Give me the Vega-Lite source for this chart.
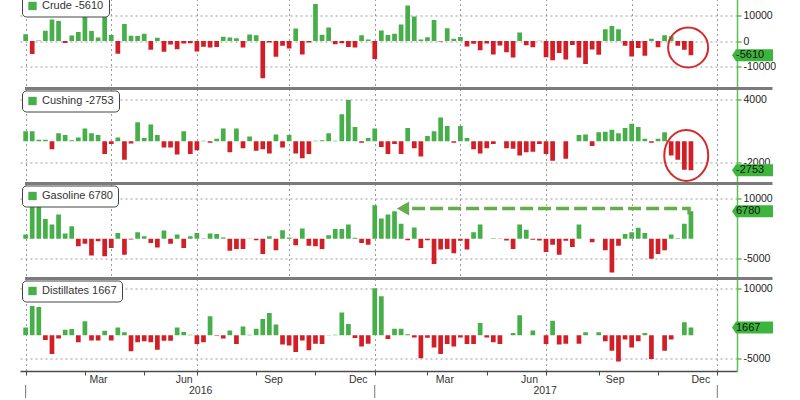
{
  "$schema": "https://vega.github.io/schema/vega-lite/v6.json",
  "background": "white",
  "padding": {"left": 20, "top": -6.5, "right": 0, "bottom": 0},
  "data": {"values": [
    {"d":"2015-12-25","Crude":2630,"Cushing":950,"Gasoline":1000,"Distillates":1700},
    {"d":"2016-01-01","Crude":-5085,"Cushing":950,"Gasoline":10600,"Distillates":6300},
    {"d":"2016-01-08","Crude":234,"Cushing":150,"Gasoline":8400,"Distillates":6100},
    {"d":"2016-01-15","Crude":3979,"Cushing":150,"Gasoline":4900,"Distillates":-1000},
    {"d":"2016-01-22","Crude":8383,"Cushing":-750,"Gasoline":3500,"Distillates":-4000},
    {"d":"2016-01-29","Crude":7792,"Cushing":750,"Gasoline":6000,"Distillates":-700},
    {"d":"2016-02-05","Crude":-754,"Cushing":600,"Gasoline":1250,"Distillates":1200},
    {"d":"2016-02-12","Crude":2100,"Cushing":100,"Gasoline":3100,"Distillates":1350},
    {"d":"2016-02-19","Crude":3502,"Cushing":350,"Gasoline":-1900,"Distillates":-1500},
    {"d":"2016-02-26","Crude":10374,"Cushing":1200,"Gasoline":-1250,"Distillates":3000},
    {"d":"2016-03-04","Crude":3880,"Cushing":750,"Gasoline":-4200,"Distillates":-1100},
    {"d":"2016-03-11","Crude":1320,"Cushing":600,"Gasoline":-650,"Distillates":-1100},
    {"d":"2016-03-18","Crude":9357,"Cushing":-1200,"Gasoline":-4400,"Distillates":1000},
    {"d":"2016-03-25","Crude":2299,"Cushing":-250,"Gasoline":-2300,"Distillates":-1100},
    {"d":"2016-04-01","Crude":-4937,"Cushing":350,"Gasoline":1400,"Distillates":1700},
    {"d":"2016-04-08","Crude":6634,"Cushing":-1750,"Gasoline":-4000,"Distillates":650},
    {"d":"2016-04-15","Crude":2080,"Cushing":-200,"Gasoline":-200,"Distillates":-3400},
    {"d":"2016-04-22","Crude":1999,"Cushing":1800,"Gasoline":1600,"Distillates":-1500},
    {"d":"2016-04-29","Crude":2784,"Cushing":300,"Gasoline":600,"Distillates":-1300},
    {"d":"2016-05-06","Crude":-3410,"Cushing":1600,"Gasoline":-1100,"Distillates":-1500},
    {"d":"2016-05-13","Crude":1311,"Cushing":600,"Gasoline":-2200,"Distillates":-3100},
    {"d":"2016-05-20","Crude":-4226,"Cushing":-600,"Gasoline":2000,"Distillates":-1150},
    {"d":"2016-05-27","Crude":-1366,"Cushing":-600,"Gasoline":-1250,"Distillates":-1150},
    {"d":"2016-06-03","Crude":-3226,"Cushing":-1250,"Gasoline":1000,"Distillates":1700},
    {"d":"2016-06-10","Crude":-933,"Cushing":950,"Gasoline":-2300,"Distillates":700},
    {"d":"2016-06-17","Crude":-917,"Cushing":-1200,"Gasoline":600,"Distillates":100},
    {"d":"2016-06-24","Crude":-4053,"Cushing":-850,"Gasoline":1400,"Distillates":-1850},
    {"d":"2016-07-01","Crude":-2223,"Cushing":50,"Gasoline":-100,"Distillates":-1500},
    {"d":"2016-07-08","Crude":-2546,"Cushing":-150,"Gasoline":1250,"Distillates":4100},
    {"d":"2016-07-15","Crude":-2342,"Cushing":250,"Gasoline":1150,"Distillates":-100},
    {"d":"2016-07-22","Crude":1671,"Cushing":1200,"Gasoline":300,"Distillates":-700},
    {"d":"2016-07-29","Crude":1413,"Cushing":-1050,"Gasoline":-3000,"Distillates":1050},
    {"d":"2016-08-05","Crude":1055,"Cushing":1200,"Gasoline":-2600,"Distillates":-1850},
    {"d":"2016-08-12","Crude":-2508,"Cushing":-650,"Gasoline":-2600,"Distillates":1900},
    {"d":"2016-08-19","Crude":2501,"Cushing":450,"Gasoline":50,"Distillates":100},
    {"d":"2016-08-26","Crude":2276,"Cushing":-900,"Gasoline":-400,"Distillates":1400},
    {"d":"2016-09-02","Crude":-14513,"Cushing":-750,"Gasoline":-3800,"Distillates":3500},
    {"d":"2016-09-09","Crude":-559,"Cushing":-1150,"Gasoline":600,"Distillates":4800},
    {"d":"2016-09-16","Crude":-6197,"Cushing":650,"Gasoline":-2900,"Distillates":2300},
    {"d":"2016-09-23","Crude":-1882,"Cushing":-600,"Gasoline":2100,"Distillates":-2000},
    {"d":"2016-09-30","Crude":-2976,"Cushing":600,"Gasoline":300,"Distillates":-2200},
    {"d":"2016-10-07","Crude":4850,"Cushing":-1150,"Gasoline":-1650,"Distillates":-3600},
    {"d":"2016-10-14","Crude":-5247,"Cushing":-1600,"Gasoline":2500,"Distillates":-1100},
    {"d":"2016-10-21","Crude":-553,"Cushing":-1200,"Gasoline":-1750,"Distillates":-3200},
    {"d":"2016-10-28","Crude":14420,"Cushing":50,"Gasoline":-1900,"Distillates":-1800},
    {"d":"2016-11-04","Crude":2432,"Cushing":100,"Gasoline":-2600,"Distillates":-1850},
    {"d":"2016-11-11","Crude":5274,"Cushing":750,"Gasoline":850,"Distillates":50},
    {"d":"2016-11-18","Crude":-1255,"Cushing":50,"Gasoline":2400,"Distillates":100},
    {"d":"2016-11-25","Crude":-884,"Cushing":2550,"Gasoline":2400,"Distillates":4900},
    {"d":"2016-12-02","Crude":-2389,"Cushing":3900,"Gasoline":3500,"Distillates":2400},
    {"d":"2016-12-09","Crude":-2563,"Cushing":1350,"Gasoline":200,"Distillates":-600},
    {"d":"2016-12-16","Crude":2256,"Cushing":-150,"Gasoline":-1100,"Distillates":-2400},
    {"d":"2016-12-23","Crude":614,"Cushing":300,"Gasoline":-1500,"Distillates":-1800},
    {"d":"2016-12-30","Crude":-7051,"Cushing":1200,"Gasoline":8300,"Distillates":10100},
    {"d":"2017-01-06","Crude":4097,"Cushing":-550,"Gasoline":5000,"Distillates":8400},
    {"d":"2017-01-13","Crude":2347,"Cushing":-1200,"Gasoline":6000,"Distillates":-800},
    {"d":"2017-01-20","Crude":2840,"Cushing":-250,"Gasoline":6800,"Distillates":1400},
    {"d":"2017-01-27","Crude":6466,"Cushing":-1200,"Gasoline":3700,"Distillates":1400},
    {"d":"2017-02-03","Crude":13830,"Cushing":1250,"Gasoline":-400,"Distillates":200},
    {"d":"2017-02-10","Crude":9527,"Cushing":-650,"Gasoline":2800,"Distillates":-450},
    {"d":"2017-02-17","Crude":564,"Cushing":-1450,"Gasoline":-2300,"Distillates":-4900},
    {"d":"2017-02-24","Crude":1501,"Cushing":500,"Gasoline":-400,"Distillates":-550},
    {"d":"2017-03-03","Crude":8209,"Cushing":950,"Gasoline":-6300,"Distillates":-2600},
    {"d":"2017-03-10","Crude":-237,"Cushing":2250,"Gasoline":-2700,"Distillates":-4000},
    {"d":"2017-03-17","Crude":4954,"Cushing":1450,"Gasoline":-2600,"Distillates":-1850},
    {"d":"2017-03-24","Crude":867,"Cushing":-150,"Gasoline":-3600,"Distillates":-2400},
    {"d":"2017-03-31","Crude":1566,"Cushing":1450,"Gasoline":-500,"Distillates":-450},
    {"d":"2017-04-07","Crude":-2166,"Cushing":300,"Gasoline":-2700,"Distillates":-1850},
    {"d":"2017-04-14","Crude":-1034,"Cushing":-750,"Gasoline":1600,"Distillates":-1850},
    {"d":"2017-04-21","Crude":-3641,"Cushing":-1150,"Gasoline":3500,"Distillates":2650},
    {"d":"2017-04-28","Crude":-930,"Cushing":-650,"Gasoline":0,"Distillates":-450},
    {"d":"2017-05-05","Crude":-5247,"Cushing":-250,"Gasoline":100,"Distillates":-1500},
    {"d":"2017-05-12","Crude":-1753,"Cushing":0,"Gasoline":-100,"Distillates":-1850},
    {"d":"2017-05-19","Crude":-4432,"Cushing":-650,"Gasoline":-450,"Distillates":0},
    {"d":"2017-05-26","Crude":-6434,"Cushing":-700,"Gasoline":-2600,"Distillates":500},
    {"d":"2017-06-02","Crude":3295,"Cushing":-1350,"Gasoline":3500,"Distillates":4300},
    {"d":"2017-06-09","Crude":-1661,"Cushing":-1050,"Gasoline":2200,"Distillates":0},
    {"d":"2017-06-16","Crude":-2451,"Cushing":-1000,"Gasoline":-300,"Distillates":1050},
    {"d":"2017-06-23","Crude":118,"Cushing":-250,"Gasoline":-450,"Distillates":0},
    {"d":"2017-06-30","Crude":-6299,"Cushing":-1200,"Gasoline":-3300,"Distillates":-1850},
    {"d":"2017-07-07","Crude":-7564,"Cushing":-1850,"Gasoline":-1500,"Distillates":3150},
    {"d":"2017-07-14","Crude":-4727,"Cushing":0,"Gasoline":-4000,"Distillates":-2000},
    {"d":"2017-07-21","Crude":-7208,"Cushing":-1650,"Gasoline":-500,"Distillates":-1800},
    {"d":"2017-07-28","Crude":-1527,"Cushing":0,"Gasoline":-2100,"Distillates":0},
    {"d":"2017-08-04","Crude":-6451,"Cushing":600,"Gasoline":3500,"Distillates":-1800},
    {"d":"2017-08-11","Crude":-8945,"Cushing":650,"Gasoline":0,"Distillates":650},
    {"d":"2017-08-18","Crude":-3327,"Cushing":-450,"Gasoline":-900,"Distillates":0},
    {"d":"2017-08-25","Crude":-5392,"Cushing":850,"Gasoline":0,"Distillates":650},
    {"d":"2017-09-01","Crude":4580,"Cushing":900,"Gasoline":-2900,"Distillates":-1300},
    {"d":"2017-09-08","Crude":5888,"Cushing":1100,"Gasoline":-8400,"Distillates":-3300},
    {"d":"2017-09-15","Crude":4591,"Cushing":750,"Gasoline":-1750,"Distillates":-5600},
    {"d":"2017-09-22","Crude":-1846,"Cushing":1250,"Gasoline":1150,"Distillates":-900},
    {"d":"2017-09-29","Crude":-6023,"Cushing":1650,"Gasoline":1600,"Distillates":-2600},
    {"d":"2017-10-06","Crude":-2747,"Cushing":1350,"Gasoline":2700,"Distillates":-1300},
    {"d":"2017-10-13","Crude":-5731,"Cushing":250,"Gasoline":1400,"Distillates":500},
    {"d":"2017-10-20","Crude":856,"Cushing":-150,"Gasoline":-5000,"Distillates":-5100},
    {"d":"2017-10-27","Crude":-2437,"Cushing":250,"Gasoline":-3800,"Distillates":0},
    {"d":"2017-11-03","Crude":2237,"Cushing":850,"Gasoline":-2900,"Distillates":-3300},
    {"d":"2017-11-10","Crude":1854,"Cushing":-1350,"Gasoline":1000,"Distillates":-900},
    {"d":"2017-11-17","Crude":-1855,"Cushing":-1750,"Gasoline":100,"Distillates":0},
    {"d":"2017-11-24","Crude":-3429,"Cushing":-2700,"Gasoline":3700,"Distillates":2800},
    {"d":"2017-12-01","Crude":-5610,"Cushing":-2753,"Gasoline":6780,"Distillates":1667}
  ]},
  "spacing": 0,
  "bounds": "flush",
  "resolve": {"scale": {"color": "independent", "y": "independent"}, "legend": {"color": "independent"}},
  "vconcat": [
    {
      "width": 717, "height": 95,
      "layer": [
        {"mark": {"type": "bar", "width": 4.7, "clip": true},
         "encoding": {
           "x": {"field": "d", "type": "temporal", "scale": {"type": "utc", "domain": [{"year":2015,"month":12,"date":24,"hours":8,"utc":true},{"year":2018,"month":1,"date":13,"hours":15,"utc":true}]},
                 "axis": {"values": [{"year":2015,"month":12,"date":25,"utc":true},{"year":2016,"month":3,"date":25,"utc":true},{"year":2016,"month":6,"date":24,"utc":true},{"year":2016,"month":9,"date":30,"utc":true},{"year":2016,"month":12,"date":30,"utc":true},{"year":2017,"month":3,"date":31,"utc":true},{"year":2017,"month":6,"date":30,"utc":true},{"year":2017,"month":9,"date":29,"utc":true},{"year":2017,"month":12,"date":29,"utc":true}], "grid": true, "domain": false, "ticks": false, "labels": false, "title": null}},
           "y": {"field": "Crude", "type": "quantitative", "scale": {"domain": [-18550, 18550], "nice": false},
                 "axis": {"orient": "right", "values": [-10000, 0, 10000], "labelExpr": "datum.value + ''", "title": null}},
           "color": {"condition": {"test": "datum.Crude < 0", "value": "#d21f27"}, "datum": "Crude -5610", "type": "nominal", "scale": {"range": ["#47af4a"]}, "legend": {"title": null}}
         }},
        {"data": {"values": [{"d": "2017-11-28T00:00:00Z", "v": -2540}]},
         "mark": {"type": "point", "shape": "circle", "size": 1600, "filled": false, "color": "#d42a2a", "strokeWidth": 2, "opacity": 1, "clip": false},
         "encoding": {"x": {"field": "d", "type": "temporal"}, "y": {"field": "v", "type": "quantitative"}}},
        {"data": {"values": [{"v": -5610}]},
         "mark": {"type": "point", "shape": "M0,0L0.67,-1L6.83,-1L6.83,1L0.67,1Z", "size": 144, "filled": true, "color": "#3db53d", "opacity": 1, "strokeWidth": 0, "clip": false},
         "encoding": {"x": {"datum": {"year":2018,"month":1,"date":13,"hours":15,"utc":true}, "type": "temporal"}, "y": {"field": "v", "type": "quantitative"}}},
        {"data": {"values": [{"v": -5610}]},
         "mark": {"type": "text", "align": "left", "baseline": "middle", "dx": 4, "fontSize": 11, "font": "Liberation Sans", "color": "#111"},
         "encoding": {"x": {"datum": {"year":2018,"month":1,"date":13,"hours":15,"utc":true}, "type": "temporal"}, "y": {"field": "v", "type": "quantitative"}, "text": {"field": "v", "type": "nominal"}}}
      ]
    },
    {
      "width": 717, "height": 95,
      "layer": [
        {"mark": {"type": "bar", "width": 4.7, "clip": true},
         "encoding": {
           "x": {"field": "d", "type": "temporal", "scale": {"type": "utc", "domain": [{"year":2015,"month":12,"date":24,"hours":8,"utc":true},{"year":2018,"month":1,"date":13,"hours":15,"utc":true}]},
                 "axis": {"values": [{"year":2015,"month":12,"date":25,"utc":true},{"year":2016,"month":3,"date":25,"utc":true},{"year":2016,"month":6,"date":24,"utc":true},{"year":2016,"month":9,"date":30,"utc":true},{"year":2016,"month":12,"date":30,"utc":true},{"year":2017,"month":3,"date":31,"utc":true},{"year":2017,"month":6,"date":30,"utc":true},{"year":2017,"month":9,"date":29,"utc":true},{"year":2017,"month":12,"date":29,"utc":true}], "grid": true, "domain": false, "ticks": false, "labels": false, "title": null}},
           "y": {"field": "Cushing", "type": "quantitative", "scale": {"domain": [-4000, 5000], "nice": false},
                 "axis": {"orient": "right", "values": [-2000, 0, 2000, 4000], "labelExpr": "datum.value + ''", "title": null}},
           "color": {"condition": {"test": "datum.Cushing < 0", "value": "#d21f27"}, "datum": "Cushing -2753", "type": "nominal", "scale": {"range": ["#47af4a"]}, "legend": {"title": null}}
         }},
        {"data": {"values": [{"v": 5000}]},
         "mark": {"type": "rule", "color": "#7b7b7b", "strokeWidth": 3, "clip": false},
         "encoding": {"x": {"datum": {"year":2015,"month":12,"date":24,"hours":8,"utc":true}, "type": "temporal"}, "x2": {"datum": {"year":2018,"month":2,"date":25,"hours":16,"utc":true}}, "y": {"field": "v", "type": "quantitative"}}},
        {"data": {"values": [{"d": "2017-11-26T00:00:00Z", "v": -1340}]},
         "mark": {"type": "point", "shape": "M0,-1.16A1,1.16 0 1,1 0,1.16A1,1.16 0 1,1 0,-1.16Z", "size": 1936, "filled": false, "color": "#d42a2a", "strokeWidth": 2, "opacity": 1, "clip": false},
         "encoding": {"x": {"field": "d", "type": "temporal"}, "y": {"field": "v", "type": "quantitative"}}},
        {"data": {"values": [{"v": -2753}]},
         "mark": {"type": "point", "shape": "M0,0L0.67,-1L6.83,-1L6.83,1L0.67,1Z", "size": 144, "filled": true, "color": "#3db53d", "opacity": 1, "strokeWidth": 0, "clip": false},
         "encoding": {"x": {"datum": {"year":2018,"month":1,"date":13,"hours":15,"utc":true}, "type": "temporal"}, "y": {"field": "v", "type": "quantitative"}}},
        {"data": {"values": [{"v": -2753}]},
         "mark": {"type": "text", "align": "left", "baseline": "middle", "dx": 4, "fontSize": 11, "font": "Liberation Sans", "color": "#111"},
         "encoding": {"x": {"datum": {"year":2018,"month":1,"date":13,"hours":15,"utc":true}, "type": "temporal"}, "y": {"field": "v", "type": "quantitative"}, "text": {"field": "v", "type": "nominal"}}}
      ]
    },
    {
      "width": 717, "height": 95,
      "layer": [
        {"mark": {"type": "bar", "width": 4.7, "clip": true},
         "encoding": {
           "x": {"field": "d", "type": "temporal", "scale": {"type": "utc", "domain": [{"year":2015,"month":12,"date":24,"hours":8,"utc":true},{"year":2018,"month":1,"date":13,"hours":15,"utc":true}]},
                 "axis": {"values": [{"year":2015,"month":12,"date":25,"utc":true},{"year":2016,"month":3,"date":25,"utc":true},{"year":2016,"month":6,"date":24,"utc":true},{"year":2016,"month":9,"date":30,"utc":true},{"year":2016,"month":12,"date":30,"utc":true},{"year":2017,"month":3,"date":31,"utc":true},{"year":2017,"month":6,"date":30,"utc":true},{"year":2017,"month":9,"date":29,"utc":true},{"year":2017,"month":12,"date":29,"utc":true}], "grid": true, "domain": false, "ticks": false, "labels": false, "title": null}},
           "y": {"field": "Gasoline", "type": "quantitative", "scale": {"domain": [-9900, 13700], "nice": false},
                 "axis": {"orient": "right", "values": [-5000, 0, 5000, 10000], "labelExpr": "datum.value + ''", "title": null}},
           "color": {"condition": {"test": "datum.Gasoline < 0", "value": "#d21f27"}, "datum": "Gasoline 6780", "type": "nominal", "scale": {"range": ["#47af4a"]}, "legend": {"title": null}}
         }},
        {"data": {"values": [{"v": 13700}]},
         "mark": {"type": "rule", "color": "#7b7b7b", "strokeWidth": 3, "clip": false},
         "encoding": {"x": {"datum": {"year":2015,"month":12,"date":24,"hours":8,"utc":true}, "type": "temporal"}, "x2": {"datum": {"year":2018,"month":2,"date":25,"hours":16,"utc":true}}, "y": {"field": "v", "type": "quantitative"}}},
        {"data": {"values": [{"d": "2017-11-29T00:00:00Z", "v": 6000, "o": 1}, {"d": "2017-11-29T00:00:00Z", "v": 7500, "o": 2}, {"d": "2017-02-06T00:00:00Z", "v": 7500, "o": 3}]},
         "mark": {"type": "line", "color": "#5ea843", "strokeWidth": 3.5, "strokeDash": [13, 5], "opacity": 0.95, "clip": false},
         "encoding": {"x": {"field": "d", "type": "temporal"}, "y": {"field": "v", "type": "quantitative"}, "order": {"field": "o", "type": "quantitative"}}},
        {"data": {"values": [{"d": "2017-01-29T00:00:00Z", "v": 7500}]},
         "mark": {"type": "point", "shape": "triangle-left", "size": 200, "filled": true, "color": "#5ea843", "opacity": 0.95, "strokeWidth": 0, "clip": false},
         "encoding": {"x": {"field": "d", "type": "temporal"}, "y": {"field": "v", "type": "quantitative"}}},
        {"data": {"values": [{"v": 6780}]},
         "mark": {"type": "point", "shape": "M0,0L0.67,-1L6.83,-1L6.83,1L0.67,1Z", "size": 144, "filled": true, "color": "#3db53d", "opacity": 1, "strokeWidth": 0, "clip": false},
         "encoding": {"x": {"datum": {"year":2018,"month":1,"date":13,"hours":15,"utc":true}, "type": "temporal"}, "y": {"field": "v", "type": "quantitative"}}},
        {"data": {"values": [{"v": 6780}]},
         "mark": {"type": "text", "align": "left", "baseline": "middle", "dx": 4, "fontSize": 11, "font": "Liberation Sans", "color": "#111"},
         "encoding": {"x": {"datum": {"year":2018,"month":1,"date":13,"hours":15,"utc":true}, "type": "temporal"}, "y": {"field": "v", "type": "quantitative"}, "text": {"field": "v", "type": "nominal"}}}
      ]
    },
    {
      "width": 717, "height": 92.5,
      "layer": [
        {"mark": {"type": "bar", "width": 4.7, "clip": true},
         "encoding": {
           "x": {"field": "d", "type": "temporal", "scale": {"type": "utc", "domain": [{"year":2015,"month":12,"date":24,"hours":8,"utc":true},{"year":2018,"month":1,"date":13,"hours":15,"utc":true}]},
                 "axis": {"values": [
                   {"year":2015,"month":12,"date":25,"utc":true},{"year":2016,"month":1,"date":29,"utc":true},{"year":2016,"month":2,"date":26,"utc":true},{"year":2016,"month":3,"date":25,"utc":true},{"year":2016,"month":4,"date":29,"utc":true},{"year":2016,"month":5,"date":27,"utc":true},{"year":2016,"month":6,"date":24,"utc":true},{"year":2016,"month":7,"date":29,"utc":true},{"year":2016,"month":8,"date":26,"utc":true},{"year":2016,"month":9,"date":30,"utc":true},{"year":2016,"month":10,"date":28,"utc":true},{"year":2016,"month":11,"date":25,"utc":true},{"year":2016,"month":12,"date":30,"utc":true},
                   {"year":2017,"month":1,"date":27,"utc":true},{"year":2017,"month":2,"date":24,"utc":true},{"year":2017,"month":3,"date":31,"utc":true},{"year":2017,"month":4,"date":28,"utc":true},{"year":2017,"month":5,"date":26,"utc":true},{"year":2017,"month":6,"date":30,"utc":true},{"year":2017,"month":7,"date":28,"utc":true},{"year":2017,"month":8,"date":25,"utc":true},{"year":2017,"month":9,"date":29,"utc":true},{"year":2017,"month":10,"date":27,"utc":true},{"year":2017,"month":11,"date":24,"utc":true},{"year":2017,"month":12,"date":29,"utc":true}],
                   "labels": false,
                   "grid": true,
                   "gridOpacity": {"condition": {"test": "utcmonth(datum.value) % 3 == 2", "value": 1}, "value": 0},
                   "domain": true, "domainColor": "#4a4a4a", "domainWidth": 1.5,
                   "ticks": true, "tickColor": "#4a4a4a", "tickWidth": 1, "tickSize": 4,
                   "title": null}},
           "y": {"field": "Distillates", "type": "quantitative", "scale": {"domain": [-7660, 12190], "nice": false},
                 "axis": {"orient": "right", "values": [-5000, 0, 5000, 10000], "labelExpr": "datum.value + ''", "title": null}},
           "color": {"condition": {"test": "datum.Distillates < 0", "value": "#d21f27"}, "datum": "Distillates 1667", "type": "nominal", "scale": {"range": ["#47af4a"]}, "legend": {"title": null}}
         }},
        {"data": {"values": [{"v": 12190}]},
         "mark": {"type": "rule", "color": "#7b7b7b", "strokeWidth": 3, "clip": false},
         "encoding": {"x": {"datum": {"year":2015,"month":12,"date":24,"hours":8,"utc":true}, "type": "temporal"}, "x2": {"datum": {"year":2018,"month":2,"date":25,"hours":16,"utc":true}}, "y": {"field": "v", "type": "quantitative"}}},
        {"data": {"values": [
           {"d":"2016-03-11T12:00:00Z","t":"Mar"},{"d":"2016-06-10T12:00:00Z","t":"Jun"},{"d":"2016-09-13T12:00:00Z","t":"Sep"},{"d":"2016-12-12T12:00:00Z","t":"Dec"},
           {"d":"2017-03-14T12:00:00Z","t":"Mar"},{"d":"2017-06-12T12:00:00Z","t":"Jun"},{"d":"2017-09-11T12:00:00Z","t":"Sep"},{"d":"2017-12-11T12:00:00Z","t":"Dec"}]},
         "mark": {"type": "text", "baseline": "middle", "align": "center", "dy": 8.5, "fontSize": 10.5, "font": "Liberation Sans", "color": "#333", "clip": false},
         "encoding": {"x": {"field": "d", "type": "temporal"}, "y": {"datum": -7660, "type": "quantitative"}, "text": {"field": "t", "type": "nominal"}}},
        {"data": {"values": [{"d":"2016-06-28T00:00:00Z","t":"2016"},{"d":"2017-06-29T00:00:00Z","t":"2017"}]},
         "mark": {"type": "text", "baseline": "middle", "align": "center", "dy": 20, "fontSize": 10.5, "font": "Liberation Sans", "color": "#333", "clip": false},
         "encoding": {"x": {"field": "d", "type": "temporal"}, "y": {"datum": -7660, "type": "quantitative"}, "text": {"field": "t", "type": "nominal"}}},
        {"data": {"values": [{"d":"2015-12-25T00:00:00Z"},{"d":"2016-12-30T00:00:00Z"},{"d":"2017-12-29T00:00:00Z"}]},
         "mark": {"type": "rule", "color": "#777777", "strokeWidth": 1, "clip": false},
         "encoding": {"x": {"field": "d", "type": "temporal"}, "y": {"datum": -10664, "type": "quantitative"}, "y2": {"datum": -13454}}},
        {"data": {"values": [{"v": 1667}]},
         "mark": {"type": "point", "shape": "M0,0L0.67,-1L6.83,-1L6.83,1L0.67,1Z", "size": 144, "filled": true, "color": "#3db53d", "opacity": 1, "strokeWidth": 0, "clip": false},
         "encoding": {"x": {"datum": {"year":2018,"month":1,"date":13,"hours":15,"utc":true}, "type": "temporal"}, "y": {"field": "v", "type": "quantitative"}}},
        {"data": {"values": [{"v": 1667}]},
         "mark": {"type": "text", "align": "left", "baseline": "middle", "dx": 4, "fontSize": 11, "font": "Liberation Sans", "color": "#111"},
         "encoding": {"x": {"datum": {"year":2018,"month":1,"date":13,"hours":15,"utc":true}, "type": "temporal"}, "y": {"field": "v", "type": "quantitative"}, "text": {"field": "v", "type": "nominal"}}}
      ]
    }
  ],
  "config": {
    "view": {"stroke": null},
    "font": "Liberation Sans",
    "axis": {"labelFont": "Liberation Sans", "labelFontSize": 10.5, "labelColor": "#222", "gridColor": "#9a9a9a", "gridDash": [2, 3], "gridWidth": 1, "domainColor": "#5cbf52", "domainWidth": 1.5, "tickColor": "#5cbf52", "tickSize": 4, "tickWidth": 1.5, "labelPadding": 2},
    "legend": {"orient": "top-left", "offset": 2, "strokeColor": "#444", "fillColor": "#ffffff", "cornerRadius": 4, "padding": 5, "symbolType": "square", "symbolSize": 70, "symbolStrokeWidth": 0, "labelFont": "Liberation Sans", "labelFontSize": 11, "labelColor": "#333"}
  }
}
